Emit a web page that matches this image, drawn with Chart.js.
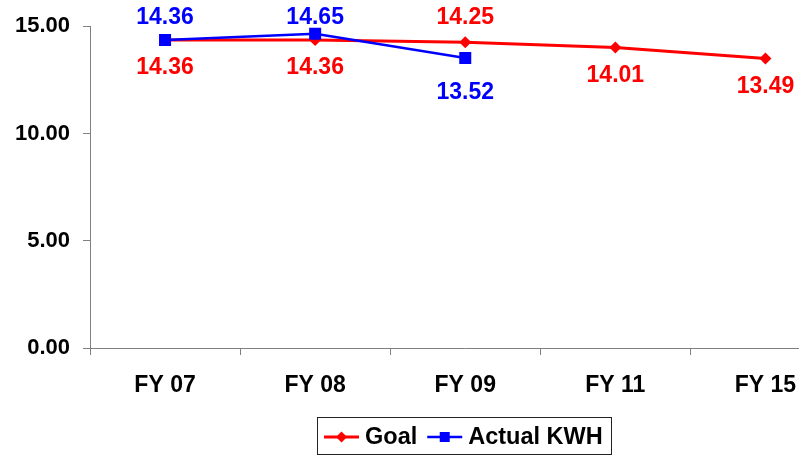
<!DOCTYPE html>
<html>
<head>
<meta charset="utf-8">
<script src="https://cdn.jsdelivr.net/npm/chart.js@4.4.1/dist/chart.umd.min.js"></script>
<style>
  html, body { margin: 0; padding: 0; background: #ffffff; }
  #wrap { width: 799px; height: 456px; overflow: hidden; position: relative; }
  canvas { display: block; }
</style>
</head>
<body>
<div id="wrap"><canvas id="chart" width="849" height="456"></canvas></div>
<script>
// Fiscal years and the two kWh series
const categories = ['FY 07', 'FY 08', 'FY 09', 'FY 11', 'FY 15'];
const goalValues = [14.36, 14.36, 14.25, 14.01, 13.49];
const actualValues = [14.36, 14.65, 13.52, null, null];
const yTickValues = [0, 5, 10, 15];

// Which side of each point its value label sits on
const goalLabelSides = ['below', 'below', 'above', 'below', 'below'];
const actualLabelSides = ['above', 'above', 'below'];

const FONT = '"Liberation Sans", Arial, Helvetica, sans-serif';
const RED = '#ff0000';
const BLUE = '#0000ff';
const AXIS = '#808080';

// Value labels drawn next to each point, kept inside the top of the canvas
const valueLabels = {
  id: 'valueLabels',
  afterDatasetsDraw(chart) {
    const ctx = chart.ctx;
    const minY = chart.chartArea.top - 9;
    ctx.save();
    ctx.font = 'bold 23px ' + FONT;
    ctx.textAlign = 'center';
    ctx.textBaseline = 'middle';
    chart.data.datasets.forEach((ds, i) => {
      const meta = chart.getDatasetMeta(i);
      ctx.fillStyle = ds.borderColor;
      meta.data.forEach((pt, j) => {
        const v = ds.data[j];
        if (v === null || v === undefined) return;
        const side = ds.labelSides[j];
        const off = ds.labelOffset[side];
        let y = side === 'above' ? pt.y - off : pt.y + off;
        y = Math.max(y, minY);
        ctx.fillText(v.toFixed(2), pt.x, y);
      });
    });
    ctx.restore();
  }
};

// Boxed legend under the axis: line with marker, then the series name
const boxLegend = {
  id: 'boxLegend',
  afterDraw(chart) {
    const ctx = chart.ctx;
    const left = 317, top = 417, h = 37, midY = top + 20;
    const padL = 7, lineW = 35, gapText = 6, gapItem = 10, padR = 8;
    ctx.save();
    ctx.font = 'bold 23.5px ' + FONT;
    ctx.textBaseline = 'middle';
    ctx.textAlign = 'left';
    let total = padL;
    chart.data.datasets.forEach((ds, i) => {
      total += lineW + gapText + ctx.measureText(ds.label).width;
      if (i < chart.data.datasets.length - 1) total += gapItem;
    });
    total += padR;
    ctx.strokeStyle = '#222';
    ctx.lineWidth = 1;
    ctx.strokeRect(left + 0.5, top + 0.5, Math.round(total), h);

    let x = left + padL;
    chart.data.datasets.forEach((ds) => {
      ctx.strokeStyle = ds.borderColor;
      ctx.fillStyle = ds.borderColor;
      ctx.lineWidth = ds.borderWidth;
      ctx.beginPath();
      ctx.moveTo(x, midY);
      ctx.lineTo(x + lineW, midY);
      ctx.stroke();
      const cx = x + lineW / 2;
      ctx.beginPath();
      if (ds.pointStyle === 'rectRot') {
        const r = 5.5;
        ctx.moveTo(cx, midY - r);
        ctx.lineTo(cx + r, midY);
        ctx.lineTo(cx, midY + r);
        ctx.lineTo(cx - r, midY);
        ctx.closePath();
      } else {
        ctx.rect(cx - 5, midY - 5, 10, 10);
      }
      ctx.fill();
      x += lineW + gapText;
      ctx.fillStyle = '#000';
      ctx.fillText(ds.label, x, midY + 1);
      x += ctx.measureText(ds.label).width + gapItem;
    });
    ctx.restore();
  }
};

new Chart(document.getElementById('chart'), {
  type: 'line',
  data: {
    labels: categories,
    datasets: [
      {
        label: 'Goal',
        data: goalValues,
        borderColor: RED,
        backgroundColor: RED,
        borderWidth: 3,
        pointStyle: 'rectRot',
        pointRadius: 6,
        pointBorderWidth: 0,
        pointBackgroundColor: RED,
        tension: 0,
        order: 1,
        labelSides: goalLabelSides,
        labelOffset: { above: 26, below: 28 }
      },
      {
        label: 'Actual KWH',
        data: actualValues,
        borderColor: BLUE,
        backgroundColor: BLUE,
        borderWidth: 2.5,
        pointStyle: 'rect',
        pointRadius: 8.5,
        pointBorderWidth: 0,
        pointBackgroundColor: BLUE,
        tension: 0,
        spanGaps: false,
        order: 0,
        labelSides: actualLabelSides,
        labelOffset: { above: 24, below: 35 }
      }
    ]
  },
  options: {
    responsive: false,
    animation: false,
    devicePixelRatio: 1,
    layout: { padding: { top: 25, right: 5, bottom: 48, left: 0 } },
    plugins: {
      legend: { display: false },
      tooltip: { enabled: false }
    },
    scales: {
      x: {
        type: 'category',
        offset: true,
        afterFit(scale) { scale.height = 60; },
        grid: {
          offset: true,
          drawOnChartArea: false,
          drawTicks: true,
          tickLength: 7,
          color: AXIS,
          lineWidth: 1
        },
        border: { display: true, color: AXIS, width: 1 },
        ticks: {
          color: '#000',
          font: { family: FONT, size: 23, weight: 'bold' },
          padding: 17,
          maxRotation: 0,
          autoSkip: false
        }
      },
      y: {
        min: 0,
        max: 15,
        afterFit(scale) { scale.width = 90; },
        afterBuildTicks(scale) {
          scale.ticks = yTickValues.map(v => ({ value: v }));
        },
        grid: {
          drawOnChartArea: false,
          drawTicks: true,
          tickLength: 7,
          color: AXIS,
          lineWidth: 1
        },
        border: { display: true, color: AXIS, width: 1 },
        ticks: {
          color: '#000',
          font: { family: FONT, size: 22, weight: 'bold' },
          padding: 13,
          callback: v => Number(v).toFixed(2)
        }
      }
    }
  },
  plugins: [valueLabels, boxLegend]
});
</script>
</body>
</html>
